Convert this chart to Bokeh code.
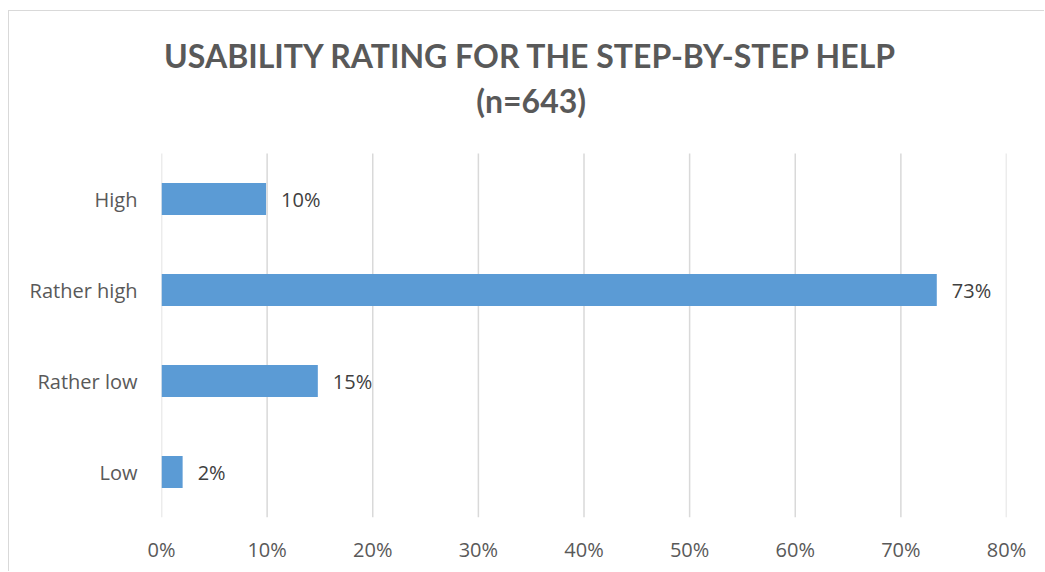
from bokeh.plotting import figure
from bokeh.models import Range1d, PrintfTickFormatter, FixedTicker, ColumnDataSource
from bokeh.core.properties import value
from bokeh.embed import file_html
from bokeh.resources import INLINE

# Usability rating shares (percent of respondents, n=643)
categories = ["High", "Rather high", "Rather low", "Low"]
shares = [9.9, 73.4, 14.8, 2.0]
x_ticks = [0, 10, 20, 30, 40, 50, 60, 70, 80]
title_lines = ["USABILITY RATING FOR THE STEP-BY-STEP HELP", "(n=643)"]

LABEL_FONT = "Open Sans"
TITLE_FONT = "Lato"
GREY = "#595959"
W, H = 1036, 561

# Category rows sit at 0.5, 1.5, ... counted from the bottom; the area above
# row 4 holds the two title lines.
n = len(categories)
rows = [n - i - 0.5 for i in range(n)]
title_top = n + 142 / 91          # headroom above the bars
title_y = [n + 98 / 91, n + 53 / 91]
title_x = 35.0

labels = [f"{round(v)}%" for v in shares]
source = ColumnDataSource(data=dict(row=rows, share=shares, label=labels))

p = figure(
    width=W, height=H,
    x_range=Range1d(0, 80),
    y_range=Range1d(0, title_top),
    output_backend="svg", toolbar_location=None,
    min_border_left=152, min_border_right=39,
    min_border_top=0, min_border_bottom=55,
    margin=(10, 0, 0, 8),
    styles={"border-left": "1px solid #d9d9d9", "border-top": "1px solid #d9d9d9"},
)
p.outline_line_color = None
p.background_fill_color = "white"
p.border_fill_color = "white"
p.xgrid.grid_line_color = None
p.ygrid.grid_line_color = None

# Vertical gridlines spanning the bar area only
p.segment(x0=x_ticks, y0=[0] * len(x_ticks), x1=x_ticks, y1=[n] * len(x_ticks),
          line_color="#d9d9d9", line_width=1.5)

p.hbar(y="row", right="share", left=0, height=0.35, source=source,
       fill_color="#5b9bd5", line_color=None)

p.text(x="share", y="row", text="label", source=source,
       x_offset=15, text_baseline="middle", text_align="left",
       text_font=value(LABEL_FONT), text_font_size="20px", text_color="#404040")

# Chart title, two centred lines
p.text(x=[title_x] * 2, y=title_y, text=title_lines,
       text_align="center", text_baseline="middle",
       text_font=value(TITLE_FONT), text_font_size="32px",
       text_font_style="bold", text_color=GREY)

# Axes: no lines or ticks, grey labels
p.xaxis.ticker = FixedTicker(ticks=x_ticks)
p.xaxis.formatter = PrintfTickFormatter(format="%d%%")
p.yaxis.ticker = FixedTicker(ticks=rows)
p.yaxis.major_label_overrides = {r: c for r, c in zip(rows, categories)}
for ax in (p.xaxis[0], p.yaxis[0]):
    ax.axis_line_color = None
    ax.major_tick_line_color = None
    ax.minor_tick_line_color = None
    ax.major_tick_out = 0
    ax.major_tick_in = 0
    ax.major_label_text_font = LABEL_FONT
    ax.major_label_text_font_size = "20px"
    ax.major_label_text_color = GREY
p.xaxis.major_label_standoff = 18
p.yaxis.major_label_standoff = 24

open("out.html", "w").write(file_html(p, INLINE))
